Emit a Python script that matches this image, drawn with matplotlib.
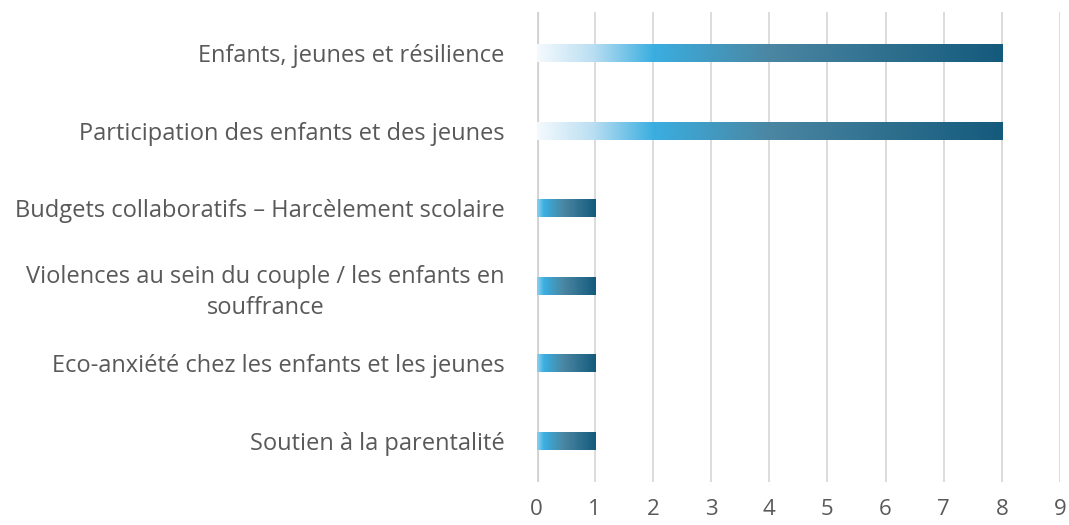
import numpy as np
import matplotlib.pyplot as plt
from matplotlib.colors import LinearSegmentedColormap

categories = [
    "Enfants, jeunes et résilience",
    "Participation des enfants et des jeunes",
    "Budgets collaboratifs – Harcèlement scolaire",
    "Violences au sein du couple / les enfants en\nsouffrance",
    "Eco-anxiété chez les enfants et les jeunes",
    "Soutien à la parentalité",
]
values = [8, 8, 1, 1, 1, 1]
x_ticks = list(range(0, 10))

plt.rcParams['font.family'] = ['Open Sans', 'DejaVu Sans']

long_cmap = LinearSegmentedColormap.from_list(
    'long', [(0.0, '#f4fafd'), (0.12, '#b9def2'), (0.25, '#3aaee0'),
             (0.5, '#4b86a2'), (1.0, '#145a7c')])
short_cmap = LinearSegmentedColormap.from_list(
    'short', [(0.0, '#8fd0f0'), (0.12, '#3aaee0'), (0.45, '#4b86a2'),
              (1.0, '#145a7c')])

fig = plt.figure(figsize=(10.69, 5.25), dpi=100)
ax = fig.add_axes([0.502, 0.082, 0.4896, 0.895])

y = np.arange(len(categories))
bar_h = 0.23
grad = np.linspace(0, 1, 256).reshape(1, -1)
for yi, v in zip(y, values):
    cmap = long_cmap if v > 2 else short_cmap
    ax.imshow(grad, cmap=cmap, aspect='auto', interpolation='bicubic',
              extent=(0, v, yi + bar_h / 2, yi - bar_h / 2), zorder=3)

ax.set_xlim(0, 9)
ax.set_ylim(len(categories) - 0.47, -0.53)
ax.set_xticks(x_ticks)
ax.set_yticks(y)
ax.set_yticklabels(categories, multialignment='center', linespacing=1.4)
ax.grid(axis='x', color='#d9d9d9', linewidth=1.3, zorder=0)
ax.axvline(0, color='#d0d0d0', linewidth=3, zorder=1)
for s in ax.spines.values():
    s.set_visible(False)
ax.tick_params(axis='both', length=0, labelcolor='#595959')
ax.tick_params(axis='y', pad=23, labelsize=17)
ax.tick_params(axis='x', pad=12, labelsize=16)

fig.savefig('out.png', dpi=100)
